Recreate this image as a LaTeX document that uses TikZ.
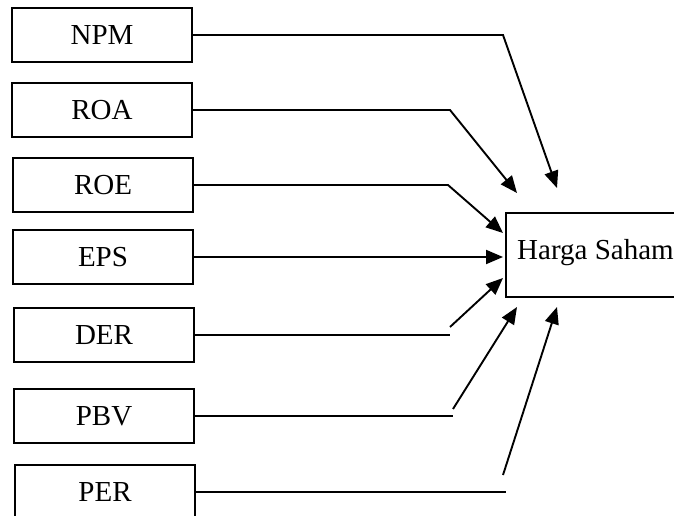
\documentclass[tikz,border=0pt]{standalone}
\usepackage{fontspec}
\setmainfont{Liberation Serif}
\usetikzlibrary{arrows.meta}
\begin{document}
\begin{tikzpicture}[x=1pt,y=-1pt,
  box/.style={draw, line width=1.9pt, minimum width=180pt, minimum height=54pt, inner sep=0pt,
    font=\fontsize{29}{34}\selectfont},
  conn/.style={line width=1.9pt},
  arr/.style={line width=1.9pt, -{Triangle[length=17pt,width=14pt]}}]
\clip (0,0) rectangle (674,516);
\fill[white] (0,0) rectangle (674,516);
\node[box] (npm) at (102,35) {NPM};
\node[box] (roa) at (102,110) {ROA};
\node[box] (roe) at (103,185) {ROE};
\node[box] (eps) at (103,257) {EPS};
\node[box] (der) at (104,335) {DER};
\node[box] (pbv) at (104,416) {PBV};
\node[box] (per) at (105,492) {PER};
\node[box, minimum width=179pt, minimum height=84pt, text height=20pt, text depth=12pt, anchor=west] (harga) at (505,255) {Harga Saham};
% free ends
\coordinate (c1) at (503,33);  \coordinate (t1) at (557,188);
\coordinate (c2) at (450,109); \coordinate (t2) at (517,193);
\coordinate (c3) at (448,181); \coordinate (t3) at (503,233);
\coordinate (t4) at (503,256);
\coordinate (h5) at (450,334); \coordinate (s5) at (450,327); \coordinate (t5) at (503,278);
\coordinate (h6) at (453,418); \coordinate (s6) at (453,409); \coordinate (t6) at (517,307);
\coordinate (h7) at (506,491); \coordinate (s7) at (503,475); \coordinate (t7) at (557,307);
\draw[arr] (npm.east) -- (npm.east -| c1) -- (t1);
\draw[arr] (roa.east) -- (roa.east -| c2) -- (t2);
\draw[arr] (roe.east) -- (roe.east -| c3) -- (t3);
\draw[arr] (eps.east) -- (eps.east -| t4);
\draw[conn] (der.east) -- (der.east -| h5);
\draw[arr] (s5) -- (t5);
\draw[conn] (pbv.east) -- (pbv.east -| h6);
\draw[arr] (s6) -- (t6);
\draw[conn] (per.east) -- (per.east -| h7);
\draw[arr] (s7) -- (t7);
\end{tikzpicture}
\end{document}
